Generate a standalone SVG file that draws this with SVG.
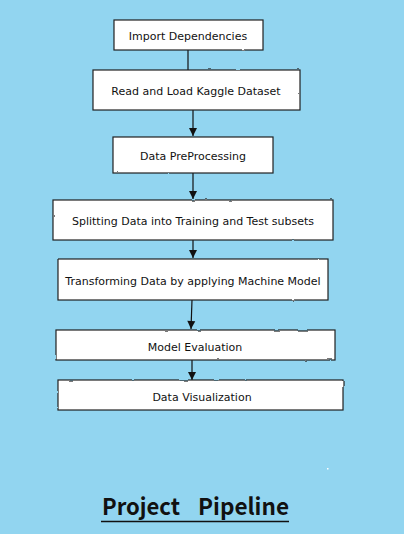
<svg xmlns="http://www.w3.org/2000/svg" width="404" height="534" viewBox="0 0 404 534">
<style>
.box{fill:#fff;stroke:#222;stroke-width:1.2;filter:url(#rough)}
.lbl{font-family:"Comic Sans MS","DejaVu Sans",sans-serif;font-size:11px;fill:#111;text-anchor:middle;dominant-baseline:central}
.edge{stroke:#111;stroke-width:1.2;fill:none}
.title{font-family:"Noto Sans CJK KR","Noto Sans",sans-serif;font-weight:bold;font-size:23px;fill:#111}
</style>
<defs>
<filter id="rough" x="-5%" y="-20%" width="110%" height="140%">
<feTurbulence type="fractalNoise" baseFrequency="0.08" numOctaves="1" seed="3"/>
<feDisplacementMap in="SourceGraphic" scale="2.2" xChannelSelector="R" yChannelSelector="G"/>
</filter>
<marker id="ah" markerWidth="10" markerHeight="10" refX="9" refY="5" orient="auto" markerUnits="userSpaceOnUse">
<path d="M1,1 L9,5 L1,9 Z" fill="#111"/>
</marker>
</defs>
<rect width="404" height="534" fill="#92D5F0"/>
<g id="connectors">
<line class="edge" x1="188" y1="50" x2="188" y2="70"/>
<line class="edge" x1="193" y1="110" x2="193" y2="136" marker-end="url(#ah)"/>
<line class="edge" x1="193" y1="173" x2="193" y2="199" marker-end="url(#ah)"/>
<line class="edge" x1="193" y1="240" x2="193" y2="258" marker-end="url(#ah)"/>
<line class="edge" x1="192" y1="300" x2="191" y2="329" marker-end="url(#ah)"/>
<line class="edge" x1="192" y1="360" x2="192" y2="380" marker-end="url(#ah)"/>
</g>
<g id="n1"><rect class="box" x="114" y="20" width="149" height="30"/><text class="lbl" x="188" y="36">Import Dependencies</text></g>
<g id="n2"><rect class="box" x="93" y="70" width="207" height="40"/><text class="lbl" x="196" y="91">Read and Load Kaggle Dataset</text></g>
<g id="n3"><rect class="box" x="113" y="137" width="160" height="36"/><text class="lbl" x="193" y="156">Data PreProcessing</text></g>
<g id="n4"><rect class="box" x="53" y="200" width="280" height="40"/><text class="lbl" x="193" y="221">Splitting Data into Training and Test subsets</text></g>
<g id="n5"><rect class="box" x="58" y="259" width="270" height="41"/><text class="lbl" x="193" y="281">Transforming Data by applying Machine Model</text></g>
<g id="n6"><rect class="box" x="56" y="330" width="279" height="30"/><text class="lbl" x="195" y="347">Model Evaluation</text></g>
<g id="n7"><rect class="box" x="58" y="380" width="285" height="30"/><text class="lbl" x="202" y="397">Data Visualization</text></g>
<g id="title">
<text class="title" y="515"><tspan x="102" textLength="78" lengthAdjust="spacingAndGlyphs">Project</tspan><tspan x="198" textLength="91" lengthAdjust="spacingAndGlyphs">Pipeline</tspan></text>
<line x1="101" y1="521.5" x2="289" y2="521.5" stroke="#111" stroke-width="1.5"/>
</g>
<rect x="327" y="468" width="1.5" height="1.5" fill="#fff"/>
</svg>
